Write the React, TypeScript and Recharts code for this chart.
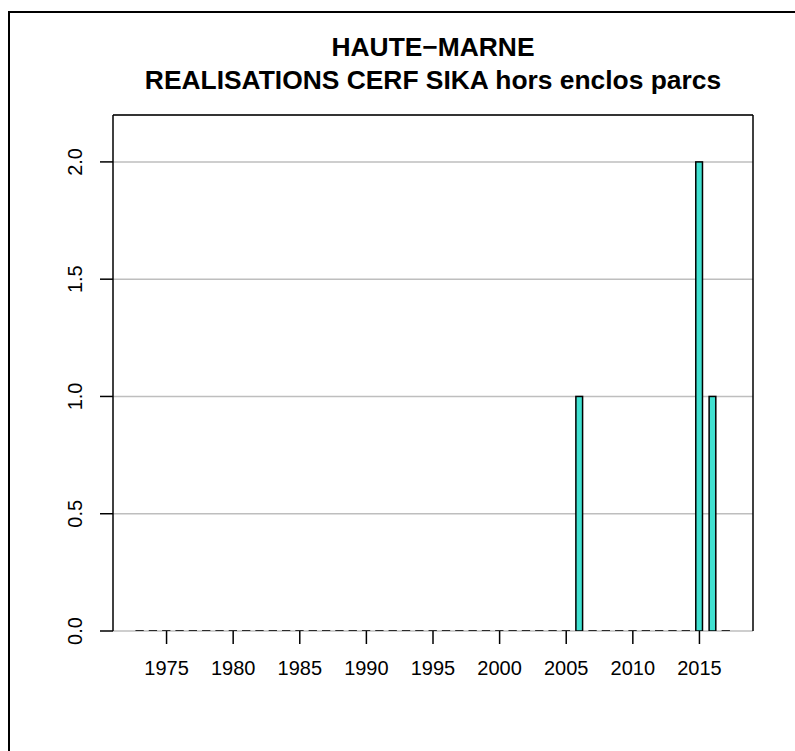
import React from "react";
import { ComposedChart, Bar, XAxis, YAxis, CartesianGrid, ReferenceLine } from "recharts";

const years = [
  1973, 1974, 1975, 1976, 1977, 1978, 1979, 1980, 1981, 1982,
  1983, 1984, 1985, 1986, 1987, 1988, 1989, 1990, 1991, 1992,
  1993, 1994, 1995, 1996, 1997, 1998, 1999, 2000, 2001, 2002,
  2003, 2004, 2005, 2006, 2007, 2008, 2009, 2010, 2011, 2012,
  2013, 2014, 2015, 2016, 2017,
];
const values = [
  0, 0, 0, 0, 0, 0, 0, 0, 0, 0,
  0, 0, 0, 0, 0, 0, 0, 0, 0, 0,
  0, 0, 0, 0, 0, 0, 0, 0, 0, 0,
  0, 0, 0, 1, 0, 0, 0, 0, 0, 0,
  0, 0, 2, 1, 0,
];
const xTicks = [1975, 1980, 1985, 1990, 1995, 2000, 2005, 2010, 2015];
const yTicks = [0, 0.5, 1, 1.5, 2];
const yTickLabels = ["0.0", "0.5", "1.0", "1.5", "2.0"];
const titleLines = ["HAUTE\u2212MARNE", "REALISATIONS CERF SIKA hors enclos parcs"];

const data = years.map((y, i) => ({ year: y, value: values[i] }));

const FONT = "'Liberation Sans', Arial, Helvetica, sans-serif";

const BarShape = (props: any) => {
  const { x, y, width, height } = props;
  if (!height || Math.abs(height) < 0.01) {
    return (
      <line x1={x} x2={x + width} y1={y} y2={y} stroke="#000" strokeWidth={1.6} strokeLinecap="square" />
    );
  }
  return <rect x={x} y={y} width={width} height={height} fill="#40E0D0" stroke="#000" strokeWidth={1.5} />;
};

const XTick = (props: any) => {
  const { x, y, payload } = props;
  return (
    <text x={x} y={y + 29} textAnchor="middle" fontFamily={FONT} fontSize={20} fill="#000">
      {String(payload.value)}
    </text>
  );
};

const YTick = (props: any) => {
  const { x, y, payload } = props;
  const idx = yTicks.indexOf(payload.value);
  const label = idx >= 0 ? yTickLabels[idx] : String(payload.value);
  const tx = x - 16;
  return (
    <text
      x={tx}
      y={y}
      transform={`rotate(-90, ${tx}, ${y})`}
      textAnchor="middle"
      fontFamily={FONT}
      fontSize={20}
      fill="#000"
    >
      {label}
    </text>
  );
};

export default function App() {
  return (
    <div style={{ position: "absolute", left: 0, top: 0, width: 795, height: 751, background: "#fff", overflow: "hidden" }}>
      <div
        style={{
          position: "absolute",
          left: 8,
          top: 11,
          width: 900,
          height: 900,
          borderLeft: "2px solid #000",
          borderTop: "2px solid #000",
        }}
      />
      <svg width={795} height={120} style={{ position: "absolute", left: 0, top: 0 }}>
        <text x={433} y={56} textAnchor="middle" fontFamily={FONT} fontWeight="bold" fontSize={26.4} fill="#000">
          {titleLines[0]}
        </text>
        <text x={433} y={89} textAnchor="middle" fontFamily={FONT} fontWeight="bold" fontSize={26.4} fill="#000">
          {titleLines[1]}
        </text>
      </svg>
      <div style={{ position: "absolute", left: 0, top: 0 }}>
        <ComposedChart
          width={795}
          height={751}
          data={data}
          margin={{ top: 115, right: 42, bottom: 60, left: 53 }}
        >
          <CartesianGrid vertical={false} stroke="#bebebe" strokeWidth={1.5} />
          <XAxis
            dataKey="year"
            type="number"
            domain={[1970.98, 2019.02]}
            allowDataOverflow
            ticks={xTicks}
            interval={0}
            height={60}
            axisLine={false}
            tickLine={{ stroke: "#000", strokeWidth: 1.5 }}
            tickSize={13}
            tick={<XTick />}
          />
          <YAxis
            type="number"
            domain={[0, 2.2]}
            allowDataOverflow
            ticks={yTicks}
            interval={0}
            width={60}
            axisLine={{ stroke: "#000", strokeWidth: 1.5 }}
            tickLine={{ stroke: "#000", strokeWidth: 1.5 }}
            tickSize={13}
            tick={<YTick />}
          />
          <ReferenceLine y={2.2} stroke="#000" strokeWidth={1.5} />
          <ReferenceLine x={2019.02} stroke="#000" strokeWidth={1.5} />
          <Bar dataKey="value" barSize={6.7} shape={<BarShape />} isAnimationActive={false} />
        </ComposedChart>
      </div>
    </div>
  );
}
